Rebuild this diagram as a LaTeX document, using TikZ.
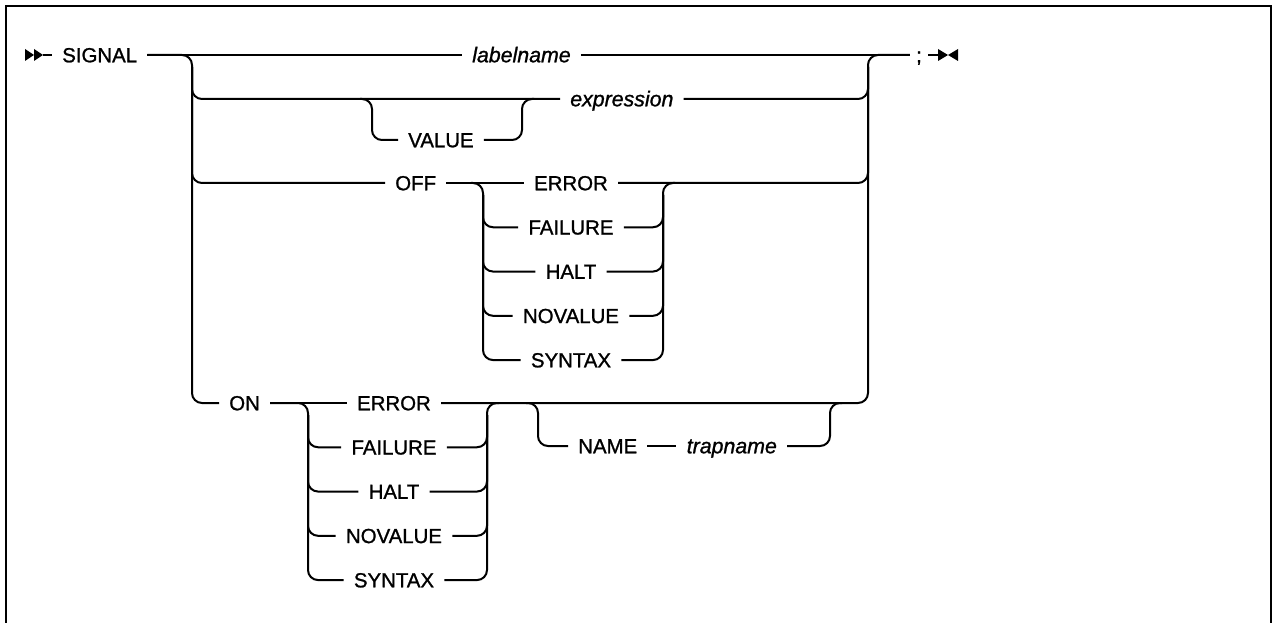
\documentclass[tikz,border=0pt]{standalone}
\usepackage{fontspec}
\setmainfont{Liberation Sans}
\newfontfamily\railfont{Liberation Sans}[FakeBold=1.1]
\usepackage{tikz}
\usetikzlibrary{positioning}
\tikzstyle{rail} = [line width=1.5pt, rounded corners=7.5pt]
\tikzstyle{kw} = [inner xsep=7.5pt, inner ysep=0pt, text height=10.9pt, text depth=0pt, font=\railfont\fontsize{15.3}{18}\selectfont]
\tikzstyle{var} = [kw, font=\railfont\fontsize{16}{19}\selectfont\itshape]

\begin{document}
\begin{tikzpicture}[x=0.75pt, y=-0.75pt, node distance=21.9pt]
\path[use as bounding box, fill=white] (0,0) rectangle (1273,623);
% Frame
\draw[line width=1.9pt] (6,623) -- (6,6) -- (1272,6);
\draw[line width=1.1pt] (1271,6) -- (1271,623);

% Start and end marks
\coordinate (start) at (43,55);
\coordinate (stop) at (938,55);
\fill (start) ++(-18,-6) -- ++(9,6) -- ++(-9,6) -- cycle;
\fill (start) ++(-9,-6) -- ++(9,6) -- ++(-9,6) -- cycle;
\fill (stop) ++(0,-6) -- ++(10,6) -- ++(-10,6) -- cycle;
\fill (stop) ++(20,-6) -- ++(-10,6) -- ++(10,6) -- cycle;

% Keywords and variables
\node[kw, anchor=west] (signal) at (52,55) {SIGNAL};
\node[var, anchor=west] (labelname) at (462,55) {labelname};
\node[kw, inner xsep=4.5pt] (semi) at (919,55) {;};
\node[var, anchor=west] (expression) at (560,99) {expression};
\node[kw, anchor=west] (value) at (398,140) {VALUE};
\node[kw, anchor=west] (off) at (385,183) {OFF};
\node[kw] (offerror) at (571,183) {ERROR};
\node[kw, below=of offerror] (offfailure) {FAILURE};
\node[kw, below=of offfailure] (offhalt) {HALT};
\node[kw, below=of offhalt] (offnovalue) {NOVALUE};
\node[kw, below=of offnovalue] (offsyntax) {SYNTAX};
\node[kw, anchor=west] (on) at (219,403) {ON};
\node[kw] (onerror) at (394,403) {ERROR};
\node[kw, below=of onerror] (onfailure) {FAILURE};
\node[kw, below=of onfailure] (onhalt) {HALT};
\node[kw, below=of onhalt] (onnovalue) {NOVALUE};
\node[kw, below=of onnovalue] (onsyntax) {SYNTAX};
\node[kw, anchor=west] (namekw) at (568,446) {NAME};
\node[var, right=21.75pt of namekw] (trapname) {trapname};

% Branch points
\coordinate (lt) at (192,55);
\coordinate (lb) at (192,403);
\coordinate (rt) at (868,55);
\coordinate (rb) at (868,403);
\coordinate (vl) at (372,99);
\coordinate (vr) at (522,99);
\coordinate (fl) at (483,183);
\coordinate (fr) at (663,183);
\coordinate (nl) at (308,403);
\coordinate (nr) at (487,403);
\coordinate (ml) at (538,403);
\coordinate (mr) at (830,403);

% Main line
\draw[rail] (start) -- (signal.west);
\draw[rail] (signal.east) -- (labelname.west);
\draw[rail] (labelname.east) -- (semi.west);
\draw[rail] (semi.east) -- (stop);
\draw[rail] (signal.east) -- (lt) -- (lb) -- (on.west);
\draw[rail] (onerror.east) -- (rb) -- (rt) -- (semi.west);

% expression, with optional VALUE
\draw[rail] ([yshift=-9pt]lt) |- (expression.west);
\draw[rail] (expression.east) -| ([yshift=-9pt]rt);
\draw[rail] ([xshift=-9pt]vl) -- (vl) |- (value.west);
\draw[rail] (value.east) -| (vr) -- ([xshift=9pt]vr);

% OFF group
\draw[rail] ([yshift=-9pt]lt) |- (off.west);
\draw[rail] (off.east) -- (offerror.west);
\draw[rail] (offerror.east) -| ([yshift=-9pt]rt);
\draw[rail] ([xshift=-9pt]fl) -- (fl) |- (offsyntax.west);
\draw[rail] (offsyntax.east) -| (fr) -- ([xshift=9pt]fr);
\foreach \n in {offfailure, offhalt, offnovalue} {
  \draw[rail] ([yshift=-9pt]fl) |- (\n.west);
  \draw[rail] (\n.east) -| ([yshift=-9pt]fr);
}

% ON group
\draw[rail] (on.east) -- (onerror.west);
\draw[rail] (on.east) -- (nl) |- (onsyntax.west);
\draw[rail] (onsyntax.east) -| (nr) -- ([xshift=9pt]nr);
\foreach \n in {onfailure, onhalt, onnovalue} {
  \draw[rail] ([yshift=-9pt]nl) |- (\n.west);
  \draw[rail] (\n.east) -| ([yshift=-9pt]nr);
}

% optional NAME trapname
\draw[rail] ([xshift=-9pt]ml) -- (ml) |- (namekw.west);
\draw[rail] (namekw.east) -- (trapname.west);
\draw[rail] (trapname.east) -| (mr) -- ([xshift=9pt]mr);
\end{tikzpicture}
\end{document}
